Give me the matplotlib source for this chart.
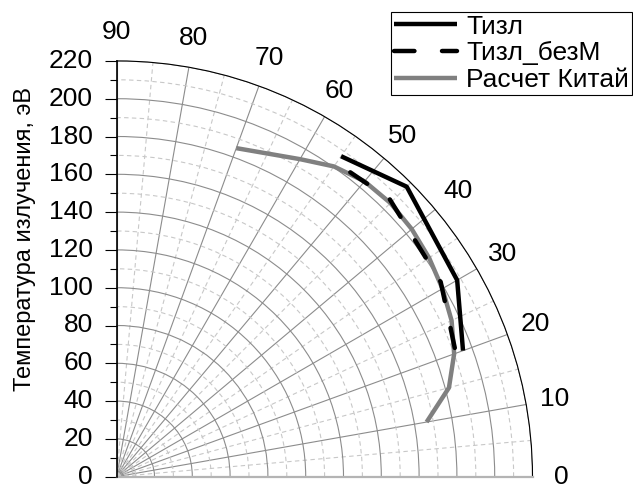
import numpy as np
import matplotlib
matplotlib.use("Agg")
import matplotlib.pyplot as plt
from matplotlib.ticker import MultipleLocator, FixedLocator

plt.rcParams['font.family'] = ['Liberation Sans', 'DejaVu Sans']

# ---- data (angle in degrees, temperature in eV) ----
t_izl_theta = [55, 45, 30, 20]
t_izl_r = [207, 217, 208, 195]

t_bezM_theta = [52.5, 45.5, 31, 20]
t_bezM_r = [203, 206, 200, 191]

china_theta = [10, 15, 20, 25, 30, 35, 40, 45, 50, 55, 60, 70]
china_r = [166.5, 182, 190, 195.5, 199, 201.8, 203.8, 204.8, 204, 200.4, 194, 185]

series_labels = ['Тизл', 'Тизл_безМ', 'Расчет Китай']
angle_ticks = [0, 10, 20, 30, 40, 50, 60, 70, 80, 90]
r_ticks = [0, 20, 40, 60, 80, 100, 120, 140, 160, 180, 200, 220]
ylabel = 'Температура излучения, эВ'

W, H = 633, 486
fig = plt.figure(figsize=(W / 100, H / 100), dpi=100)
ox, oy, R = 116.7, 476.7, 415.8
ax = fig.add_axes([ox / W, (H - oy) / H, R / W, R / H], projection='polar')
ax.set_thetamin(0)
ax.set_thetamax(90)
ax.set_ylim(0, 220)

FS = 19

# theta ticks
ax.set_xticks(np.deg2rad(angle_ticks))
ax.set_xticklabels([''] * len(angle_ticks))
ax.xaxis.set_minor_locator(FixedLocator(np.deg2rad(np.arange(5, 90, 10))))
ax.tick_params(axis='x', which='major', direction='in', length=10, width=0.8, color='black', pad=0)
ax.tick_params(axis='x', which='minor', direction='in', length=6, width=0.8, color='black')

# radial ticks
ax.set_yticks(r_ticks)
ax.yaxis.set_minor_locator(MultipleLocator(10))
ax.tick_params(axis='y', which='both', left=False, labelleft=False, right=True, labelright=True)
ax.tick_params(axis='y', which='major', labelsize=FS, length=9, width=0.8, color='black', pad=8)
ax.tick_params(axis='y', which='minor', length=5, width=0.8, color='black')

# grid
ax.grid(which='major', color='#8c8c8c', lw=0.8, ls='-')
ax.grid(which='minor', color='#c8c8c8', lw=0.8, ls=(0, (4, 3)))

# spines
ax.spines['polar'].set_color('black')
ax.spines['polar'].set_linewidth(0.8)
ax.spines['end'].set_color('black')
ax.spines['end'].set_linewidth(1.2)
ax.spines['start'].set_color('#b4b4b4')
ax.spines['start'].set_linewidth(1.6)

# data
LW = 3.2
l1, = ax.plot(np.deg2rad(t_izl_theta), t_izl_r, color='black', lw=LW,
              solid_capstyle='butt', zorder=5, label=series_labels[0])
l2, = ax.plot(np.deg2rad(t_bezM_theta), t_bezM_r, color='black', lw=LW,
              ls=(0, (4.6, 6.2)), dash_capstyle='round', zorder=5, label=series_labels[1])
l3, = ax.plot(np.deg2rad(china_theta), china_r, color='#808080', lw=LW,
              solid_capstyle='butt', zorder=4, label=series_labels[2])

# angle labels
for a in angle_ticks:
    ax.text(np.deg2rad(a), 235.5, str(a), ha='center', va='center',
            fontsize=FS, clip_on=False)

fig.text(25 / W, 1 - 239 / H, ylabel, rotation=90, ha='center', va='center', fontsize=17)

leg = fig.legend(handles=[l1, l2, l3], loc='upper right',
                 bbox_to_anchor=(632 / W, 1 - 12 / H), fontsize=FS,
                 frameon=True, fancybox=False, framealpha=1, edgecolor='black',
                 borderpad=0.1, handlelength=2.4, handletextpad=0.35,
                 labelspacing=0.1, borderaxespad=0)
leg.get_frame().set_linewidth(0.8)

fig.savefig('out.png', dpi=100)
